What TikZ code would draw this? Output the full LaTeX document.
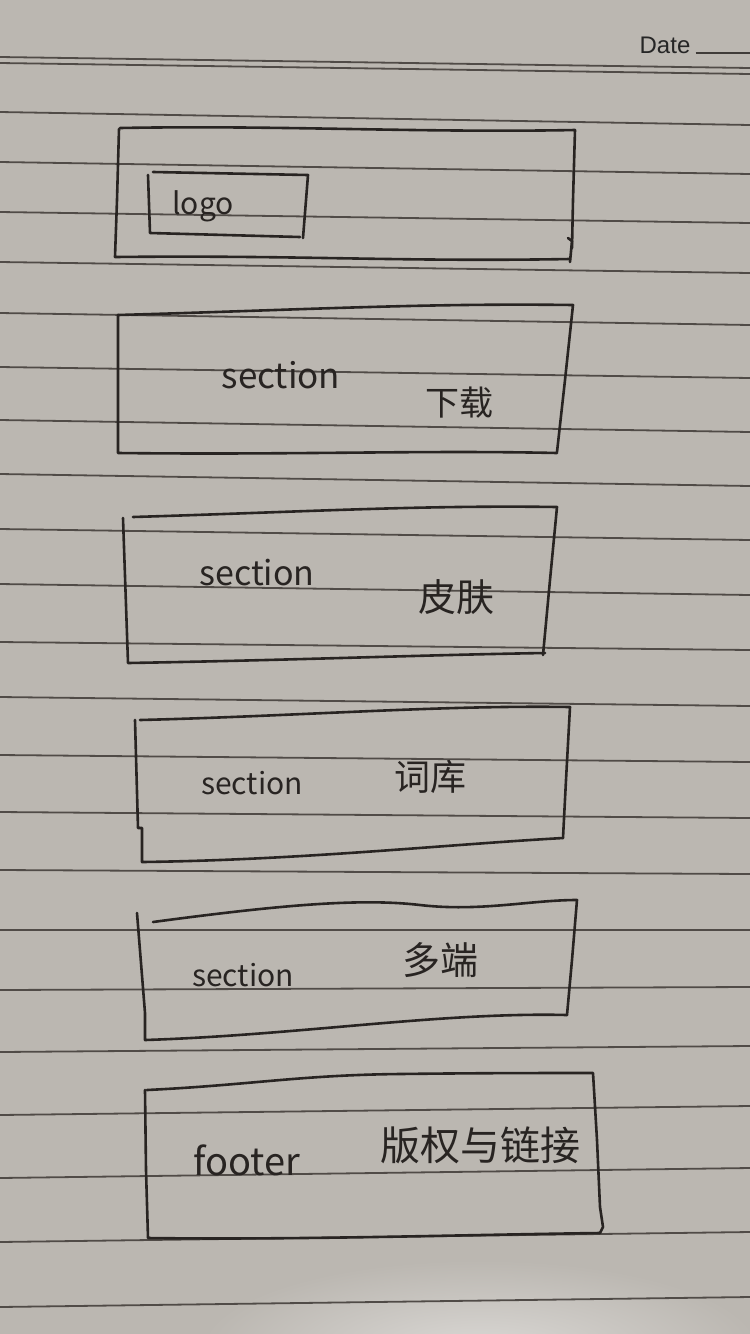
\documentclass[tikz,border=0pt]{standalone}
\usepackage{fontspec}
\setmainfont{Liberation Sans}
\newfontfamily\cjk{Noto Sans CJK SC}
\definecolor{paperC}{RGB}{187,183,177}
\definecolor{ruleC}{RGB}{80,75,71}
\definecolor{penC}{RGB}{40,36,34}
\begin{document}
\begin{tikzpicture}[x=1pt,y=-1pt,
  rule/.style={draw=ruleC, line width=1.8},
  pen/.style={draw=penC, line width=2.6, line cap=round, line join=round},
  hand/.style={text=penC, inner sep=0pt, anchor=center},
]
\fill[paperC] (0,0) rectangle (750,1334);
\useasboundingbox (0,0) rectangle (750,1334);
% soft glare near the bottom of the sheet
\begin{scope}
  \clip (0,1200) rectangle (750,1334);
  \shade[inner color=paperC!55!white, outer color=paperC] (480,1350) ellipse (280 and 90);
\end{scope}
% ruled lines of the paper
\foreach \a/\b in {57/68,63/74,112/125,162/174,212/223,262/273,313/325,367/378,420/432,474/486,529/540,584/595,642/650,697/706,755/762,812/818,870/874,930/930,990/987,1052/1046,1115/1106,1178/1168,1242/1232,1307/1297}
  \draw[rule] (0,\a) -- (750,\b);
% Date
\node[hand, font=\fontsize{24}{24}\selectfont, text=black!85] (date) at (665,45) {Date};
\coordinate (dateend) at (750,53);
\draw[ruleC!80!black, line width=1.5] (date.east |- 0,53) ++(5,0) -- (dateend);

% box 1 : header
\draw[pen] (120,128) .. controls (280,125) and (420,133) .. (575,130) -- (573,200) -- (572,248);
\draw[pen] (119,129) -- (117,200) -- (115,257) .. controls (300,255) and (400,262) .. (570,259);
\draw[pen] (568,238) -- (572,241) -- (570,262);
% logo box
\draw[pen] (153,172) -- (308,175) -- (303,238);
\draw[pen] (148,175) -- (150,233) -- (300,237);
\node[hand, font=\cjk\fontsize{30}{30}\selectfont] (logo) at (203,206) {logo};

% box 2
\draw[pen] (118,315) .. controls (300,310) and (420,303) .. (573,305) -- (565,380) -- (557,452);
\draw[pen] (118,315) -- (118,453) .. controls (300,455) and (420,450) .. (557,453);
\node[hand, font=\cjk\fontsize{35}{35}\selectfont] (sec1) at (281,375) {section};
\node[hand, font=\cjk\fontsize{34}{34}\selectfont] (dl) at (459,403) {下载};

% box 3
\draw[pen] (133,517) .. controls (300,512) and (420,505) .. (557,507) -- (550,580) -- (543,655);
\draw[pen] (123,518) -- (128,663) .. controls (300,660) and (420,655) .. (545,653);
\node[hand, font=\cjk\fontsize{34}{34}\selectfont] (sec2) at (257,573) {section};
\node[hand, font=\cjk\fontsize{38}{38}\selectfont] (skin) at (456,597) {皮肤};

% box 4
\draw[pen] (140,720) .. controls (300,716) and (440,705) .. (570,707) -- (566,780) -- (563,838);
\draw[pen] (135,720) -- (138,828) -- (142,828) -- (142,862) .. controls (300,860) and (440,845) .. (563,838);
\node[hand, font=\cjk\fontsize{30}{30}\selectfont] (sec3) at (252,783) {section};
\node[hand, font=\cjk\fontsize{36}{36}\selectfont] (dict) at (430,777) {词库};

% box 5
\draw[pen] (153,922) .. controls (280,905) and (360,898) .. (420,905) .. controls (480,912) and (530,900) .. (577,900) -- (572,960) -- (567,1015);
\draw[pen] (137,913) -- (145,1013) -- (145,1040) .. controls (300,1035) and (440,1012) .. (567,1015);
\node[hand, font=\cjk\fontsize{30}{30}\selectfont] (sec4) at (243,975) {section};
\node[hand, font=\cjk\fontsize{38}{38}\selectfont] (multi) at (440,960) {多端};

% box 6 : footer
\draw[pen] (147,1090) .. controls (250,1085) and (300,1075) .. (400,1074) .. controls (480,1073) and (540,1073) .. (593,1073) -- (597,1140) -- (600,1207) -- (603,1227) -- (600,1233);
\draw[pen] (145,1090) -- (146,1170) -- (148,1238) .. controls (300,1240) and (450,1235) .. (600,1233);
\node[hand, font=\cjk\fontsize{38}{38}\selectfont] (footer) at (247,1160) {footer};
\node[hand, font=\cjk\fontsize{40}{40}\selectfont] (copy) at (480,1145) {版权与链接};
\end{tikzpicture}
\end{document}
